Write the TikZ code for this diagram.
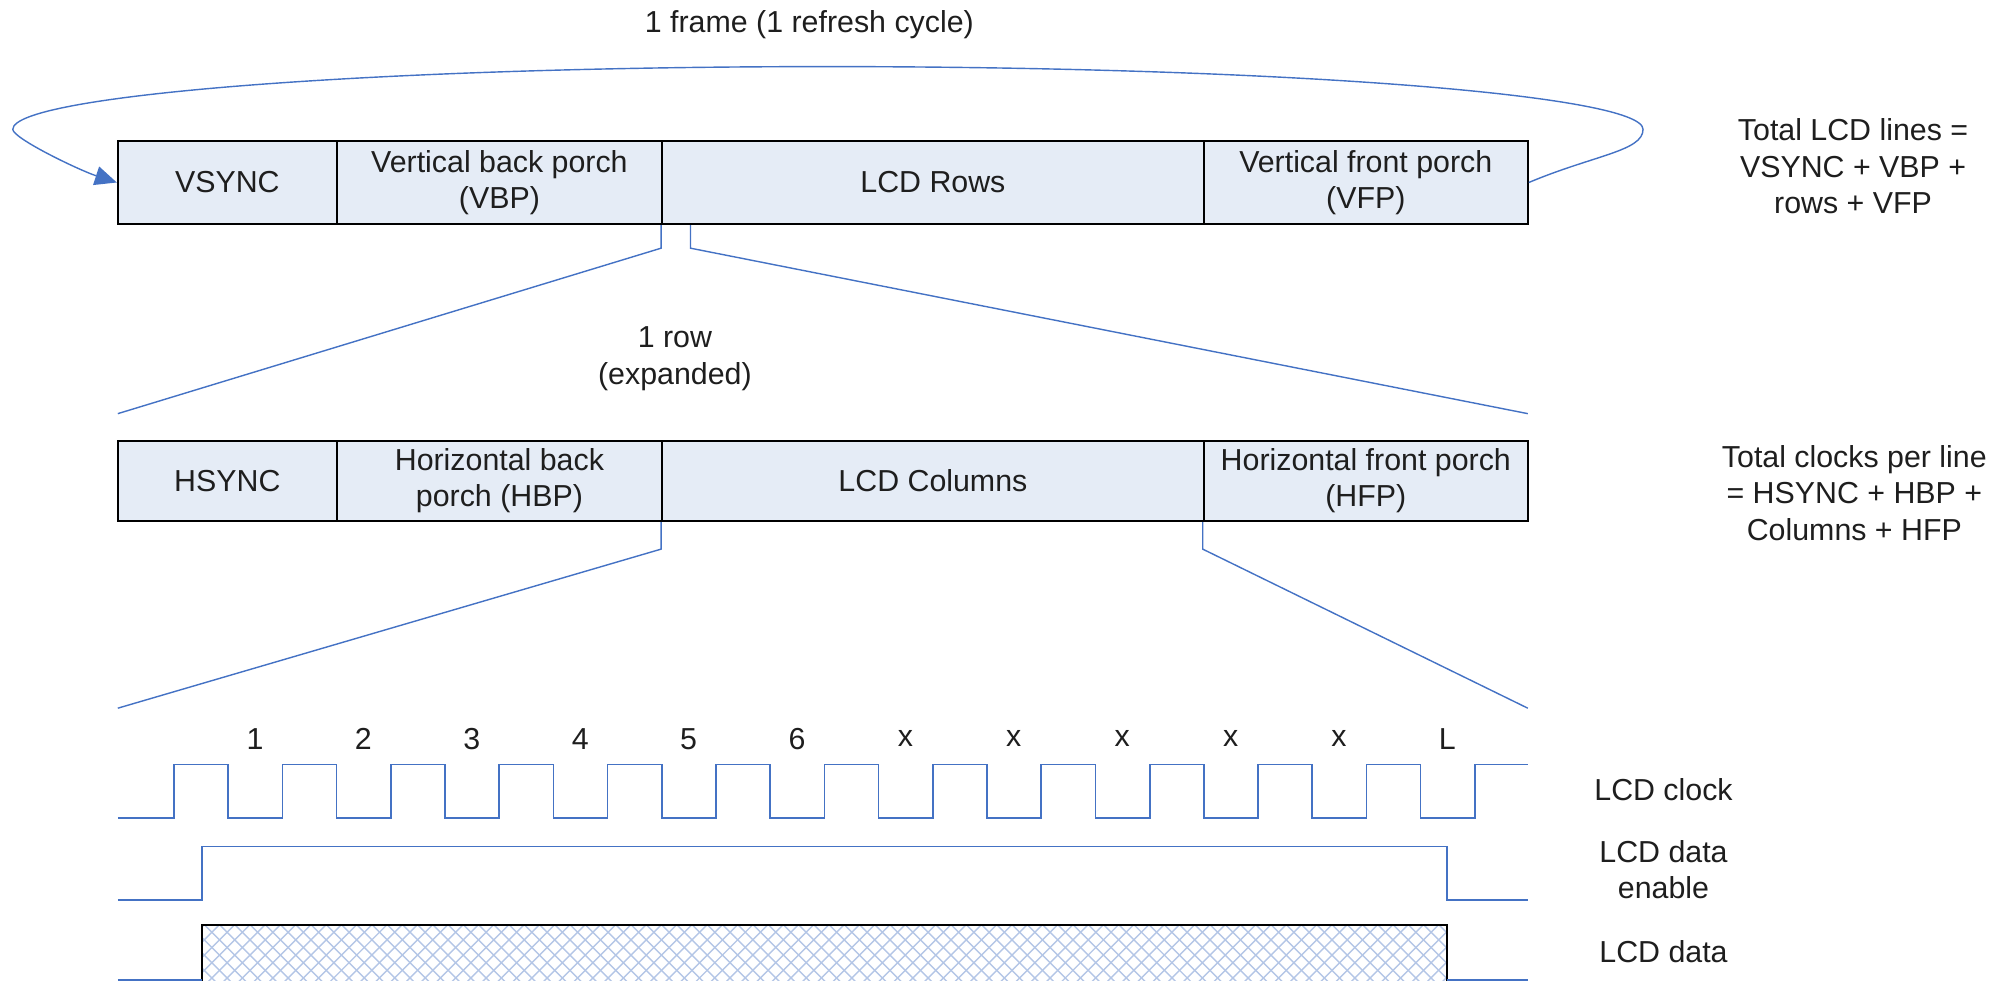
\documentclass[tikz,border=0pt]{standalone}
\usepackage{fontspec}
\setmainfont{Liberation Sans}
\usetikzlibrary{arrows.meta}
\definecolor{lineblue}{RGB}{68,114,196}
\definecolor{cellfill}{RGB}{229,236,246}
\definecolor{hatchblue}{RGB}{180,198,230}
\definecolor{txt}{RGB}{30,30,30}
\begin{document}
\begin{tikzpicture}[x=0.5pt,y=-0.5pt,
  every node/.style={font=\fontsize{11.85pt}{14.25pt}\selectfont, text=txt, inner sep=0pt},
  cell/.style={draw=black, line width=0.8pt, fill=cellfill, align=center, minimum height=32.5pt},
  cellb/.style={cell, minimum height=31.5pt},
  sig/.style={draw=lineblue, line width=0.65pt},
  zoomline/.style={draw=lineblue, line width=0.55pt},
  lbl/.style={align=center},
  hatchline/.style={draw=hatchblue, line width=0.55pt}]
\path[use as bounding box, clip] (0,0) rectangle (1568,766);

% title
\node[lbl] (title) at (632,19) {1 frame (1 refresh cycle)};

% top row
\node[cell, minimum width=85.5pt]  (vsync) at (177.5,142.5) {VSYNC};
\node[cell, minimum width=127pt]   (vbp)   at (390,142.5)   {Vertical back porch\\(VBP)};
\node[cell, minimum width=211.5pt] (rows)  at (728.5,142.5) {LCD Rows};
\node[cell, minimum width=126.5pt] (vfp)   at (1066.5,142.5) {Vertical front porch\\(VFP)};
\node[lbl] (tot1) at (1447,130) {Total LCD lines =\\VSYNC + VBP +\\rows + VFP};

% loop arrow
\draw[zoomline, -{Triangle[length=8.5pt,width=7.5pt]}] (vfp.east)
  .. controls (1245,121) and (1283,118) .. (1283,101)
  .. controls (1283,74) and (998,52) .. (646,52)
  .. controls (295,52) and (10,74) .. (10,101)
  .. controls (10,108) and (62,133) .. (vsync.west);

% expansion lines 1
\coordinate (e1) at (92,323);
\coordinate (e2) at (1193,323);
\draw[zoomline] (rows.south west) -- ++(0,18) -- (e1);
\draw[zoomline] ([xshift=11.5pt]rows.south west) -- ++(0,18) -- (e2);
\node[lbl] (rowlbl) at (527,280) {1 row\\(expanded)};

% second row
\node[cellb, minimum width=85.5pt]  (hsync) at (177.5,375.5) {HSYNC};
\node[cellb, minimum width=127pt]   (hbp)   at (390,375.5)   {Horizontal back\\porch (HBP)};
\node[cellb, minimum width=211.5pt] (cols)  at (728.5,375.5) {LCD Columns};
\node[cellb, minimum width=126.5pt] (hfp)   at (1066.5,375.5) {Horizontal front porch\\(HFP)};
\node[lbl] (tot2) at (1448,385) {Total clocks per line\\= HSYNC + HBP +\\Columns + HFP};

% expansion lines 2
\coordinate (e3) at (92,553);
\coordinate (e4) at (1193,553);
\draw[zoomline] (cols.south west) -- ++(0,21) -- (e3);
\draw[zoomline] (hfp.south west) -- ++(0,21) -- (e4);

% clock labels
\foreach \t [count=\k from 0] in {1,2,3,4,5,6,x,x,x,x,x,L}
  \node (c\k) at ({199.1+84.65*\k},577) {\t};

% clock waveform
\draw[sig] (92,639)
  \foreach \k in {0,...,11} {
    -- ({135.9+84.65*\k},639) -- ({135.9+84.65*\k},597)
    -- ({178.2+84.65*\k},597) -- ({178.2+84.65*\k},639) }
  -- (1151.7,639) -- (1151.7,597) -- (1193,597);

% data enable
\draw[sig] (92,703) -- (157.5,703) -- (157.5,661) -- (1130,661) -- (1130,703) -- (1193,703);

% data
\begin{scope}
  \clip (157.5,722) rectangle (1130,790);
  \foreach \i in {0,...,96} {
    \draw[hatchline] ({100+11.9*\i},722) -- ++(70,70);
    \draw[hatchline] ({100+11.9*\i},722) -- ++(-70,70);
  }
\end{scope}
\draw[black, line width=0.8pt] (157.5,790) -- (157.5,722) -- (1130,722) -- (1130,790);
\draw[zoomline] (92,765.3) -- (157.5,765.3);
\draw[zoomline] (1130,765.3) -- (1193,765.3);

% signal labels
\node[lbl] (lclk) at (1299,617) {LCD clock};
\node[lbl] (lden) at (1299,679) {LCD data\\enable};
\node[lbl] (ldat) at (1299,743) {LCD data};
\end{tikzpicture}
\end{document}
